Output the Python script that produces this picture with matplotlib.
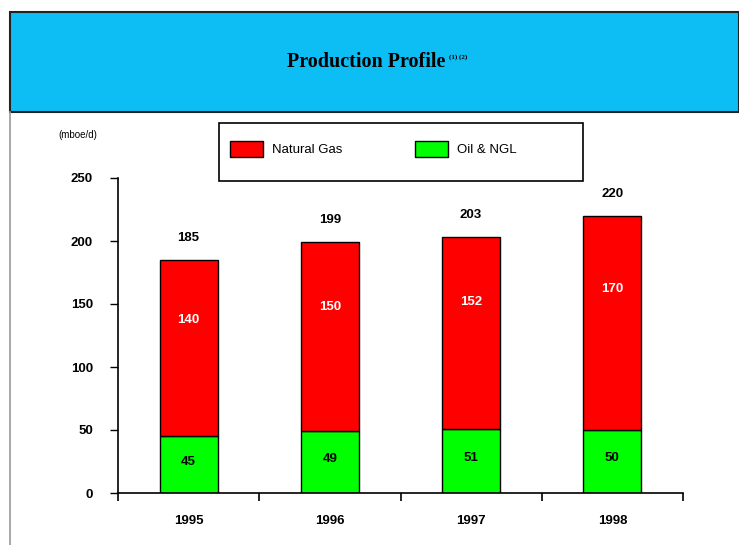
import numpy as np
import matplotlib.pyplot as plt
from matplotlib.patches import Rectangle, Patch
from matplotlib.lines import Line2D

plt.rcParams['font.family'] = ['Liberation Sans', 'DejaVu Sans']

# Production, mboe/d
years = ['1995', '1996', '1997', '1998']
oil_ngl = [45, 49, 51, 50]
natural_gas = [140, 150, 152, 170]
totals = [185, 199, 203, 220]

RED = '#FF0000'
GREEN = '#00FF00'
HEADER = '#0DBEF4'

W, H = 739, 545
fig = plt.figure(figsize=(W / 100, H / 100), dpi=100)


def fx(px):
    return px / W


def fy(py):
    return 1 - py / H


# header band
fig.add_artist(Rectangle((fx(10), fy(112)), 1 - fx(10), fy(12) - fy(112),
                         transform=fig.transFigure, facecolor=HEADER,
                         edgecolor='#222222', linewidth=1.5, zorder=0))
fig.add_artist(Line2D([fx(10), fx(10)], [0, fy(112)], transform=fig.transFigure,
                      color='#9a9a9a', linewidth=1.2))
fig.text(fx(445), fy(62), 'Production Profile', family='Liberation Serif',
         fontweight='bold', fontsize=14.5, ha='right', va='center')
fig.text(fx(449), fy(57), '(1) (2)', family='Liberation Serif', fontweight='bold',
         fontsize=5, ha='left', va='center')

ax = fig.add_axes([fx(118), fy(493), fx(683) - fx(118), fy(178) - fy(493)])
x = np.arange(len(years))
bw = 0.41
ax.bar(x, oil_ngl, bw, color=GREEN, edgecolor='black', linewidth=1.0, label='Oil & NGL')
ax.bar(x, natural_gas, bw, bottom=oil_ngl, color=RED, edgecolor='black',
       linewidth=1.0, label='Natural Gas')

for i in range(len(years)):
    ax.text(x[i], oil_ngl[i] * 0.55, str(oil_ngl[i]), ha='center', va='center',
            fontsize=9.5, fontweight='bold', color='black')
    ax.text(x[i], oil_ngl[i] + natural_gas[i] * 0.66, str(natural_gas[i]), ha='center',
            va='center', fontsize=9.5, fontweight='bold', color='white')
    ax.annotate(str(totals[i]), (x[i], totals[i]), xytext=(0, 16), textcoords='offset points',
                ha='center', va='center', fontsize=9.5, fontweight='bold')

ax.set_xlim(-0.5, len(years) - 0.5)
ax.set_ylim(0, 250)
ax.set_yticks(np.arange(0, 251, 50))
ax.set_xticks(x)
ax.set_xticklabels(years)
ax.set_xticks(np.arange(-0.5, len(years), 1), minor=True)
ax.tick_params(axis='x', which='major', length=0, pad=16, labelsize=9.5)
ax.tick_params(axis='x', which='minor', length=6, width=1.2, direction='out')
ax.tick_params(axis='y', length=6, width=1.0, direction='out', pad=12, labelsize=9.5)
for lab in ax.get_xticklabels() + ax.get_yticklabels():
    lab.set_fontweight('bold')
ax.spines['top'].set_visible(False)
ax.spines['right'].set_visible(False)
ax.spines['left'].set_linewidth(1.2)
ax.spines['bottom'].set_linewidth(1.2)

fig.text(fx(58), fy(135), '(mboe/d)', fontsize=7, ha='left', va='center')

# legend box
fig.add_artist(Rectangle((fx(219), fy(181)), fx(583) - fx(219), fy(123) - fy(181),
                         transform=fig.transFigure, facecolor='white',
                         edgecolor='black', linewidth=1.2))
handles = [Patch(facecolor=RED, edgecolor='black', label='Natural Gas'),
           Patch(facecolor=GREEN, edgecolor='black', label='Oil & NGL')]
fig.legend(handles=handles, loc='center left', bbox_to_anchor=(fx(230), fy(149)),
           ncol=2, frameon=False, fontsize=9.5, handlelength=2.5, handleheight=1.6,
           handletextpad=0.7, columnspacing=5.5, borderaxespad=0, borderpad=0)

fig.savefig('out.png', dpi=100)
